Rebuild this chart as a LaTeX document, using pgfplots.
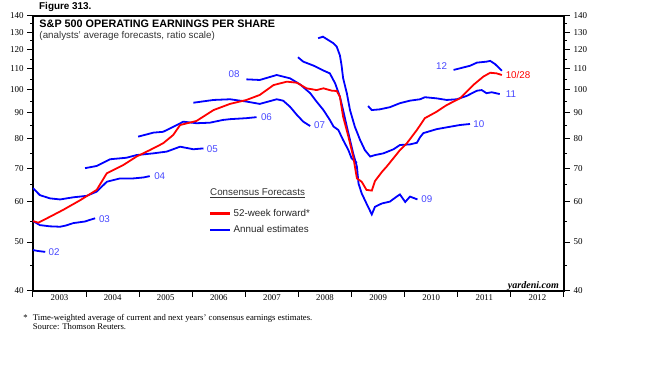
\documentclass[border=0pt]{standalone}
\usepackage{fontspec}
\setmainfont{Liberation Serif}
\setsansfont{Liberation Sans}
\usepackage{pgfplots}
\pgfplotsset{compat=1.18}
\definecolor{lblue}{RGB}{70,70,255}
\definecolor{pblue}{RGB}{0,0,255}
\definecolor{pred}{RGB}{255,0,0}
\begin{document}
\begin{tikzpicture}[
  lbl/.style={font=\sffamily\fontsize{9.8bp}{11bp}\selectfont, text=lblue, inner sep=0pt, anchor=west},
  bl/.style={pblue, line width=1.8bp},
]
\useasboundingbox (-33bp,-80bp) rectangle (627bp,291bp);
\begin{axis}[
  at={(0bp,0bp)}, anchor=south west, scale only axis,
  width=531bp, height=275bp,
  xmin=2003, xmax=2013, ymode=log, ymin=40, ymax=140,
  tick align=outside, major tick length=6bp, minor tick length=3bp,
  every tick/.style={black, line width=1bp},
  ytick={40,50,60,70,80,90,100,110,120,130,140},
  yticklabels={40,50,60,70,80,90,100,110,120,130,140},
  minor ytick={45,55,65,75,85,95,105,115,125,135},
  tick label style={font=\rmfamily\fontsize{9bp}{10bp}\selectfont},
  axis line style={line width=1.6bp},
  xtick={2003,2004,...,2013}, xticklabels={,,,,,,,,,,},
  xtick pos=bottom, ytick pos=left,
  extra x ticks={2003.5,2004.5,...,2012.5},
  extra x tick labels={2003,2004,2005,2006,2007,2008,2009,2010,2011,2012},
  extra x tick style={major tick length=0bp, tick label style={font=\rmfamily\fontsize{8.8bp}{10bp}\selectfont}},
  legend style={draw=none, fill=none, at={(0.3315,0.306)}, anchor=north west,
    inner sep=0pt, row sep=4bp, text=black!85,
    font=\sffamily\fontsize{9.8bp}{11bp}\selectfont, cells={anchor=west}},
  legend image code/.code={\draw[#1] (0bp,0bp) -- (20bp,0bp);},
]
\addlegendimage{pred, line width=2.4bp}
\addlegendentry{52-week forward*}
\addlegendimage{pblue, line width=2.4bp}
\addlegendentry{Annual estimates}
% 02
\addplot[bl, forget plot] coordinates {(2003.0,48.2) (2003.09,48.0) (2003.23,47.8)};
% 03
\addplot[bl, forget plot] coordinates {(2003.0,55.0) (2003.13,54.0) (2003.32,53.7) (2003.51,53.6) (2003.62,53.9) (2003.76,54.5) (2003.98,54.9) (2004.07,55.3) (2004.17,55.7)};
% 04
\addplot[bl, forget plot] coordinates {(2003.0,63.9) (2003.13,61.9) (2003.32,61.0) (2003.51,60.7) (2003.76,61.3) (2004.01,61.7) (2004.20,62.9) (2004.39,65.8) (2004.64,66.8) (2004.89,66.8) (2005.08,67.1) (2005.20,67.5)};
% 05
\addplot[bl, forget plot] coordinates {(2003.98,70.0) (2004.20,70.7) (2004.45,72.9) (2004.76,73.4) (2004.95,74.3) (2005.27,74.9) (2005.52,75.5) (2005.77,77.2) (2006.02,76.3) (2006.21,76.6)};
% 06
\addplot[bl, forget plot] coordinates {(2004.98,80.8) (2005.27,82.3) (2005.45,82.6) (2005.71,85.2) (2005.83,86.5) (2006.08,85.9) (2006.33,86.1) (2006.58,87.2) (2006.71,87.5) (2007.02,87.9) (2007.21,88.3)};
% 07
\addplot[bl, forget plot] coordinates {(2006.02,94.3) (2006.40,95.5) (2006.71,95.8) (2007.02,94.8) (2007.27,93.8) (2007.59,95.8) (2007.71,95.2) (2007.84,92.6) (2007.97,89.2) (2008.09,86.5) (2008.22,84.8)};
% 08
\addplot[bl, forget plot] coordinates {(2007.02,104.9) (2007.27,104.6) (2007.59,107.0) (2007.84,105.4) (2008.03,102.5) (2008.22,98.5) (2008.34,94.8) (2008.47,91.2) (2008.59,87.2) (2008.66,84.6) (2008.75,83.3) (2008.84,79.6) (2008.94,76.0) (2009.00,73.2) (2009.10,71.7)};
% 09
\addplot[bl, forget plot] coordinates {(2007.99,116.0) (2008.09,113.7) (2008.28,111.7) (2008.47,109.2) (2008.59,107.8) (2008.69,103.0) (2008.78,96.9) (2008.84,91.2) (2008.91,84.6) (2008.97,79.6) (2009.03,74.9) (2009.10,70.5) (2009.13,65.3) (2009.19,62.4) (2009.28,59.6) (2009.38,56.7) (2009.44,58.7) (2009.57,59.6) (2009.72,60.1) (2009.85,61.5) (2009.91,62.1) (2010.01,60.0) (2010.10,61.5) (2010.24,60.7)};
% 10
\addplot[bl, forget plot] coordinates {(2008.37,126.5) (2008.46,127.4) (2008.66,123.6) (2008.72,121.7) (2008.78,117.0) (2008.81,112.0) (2008.84,105.5) (2008.91,98.5) (2008.97,91.2) (2009.06,84.6) (2009.16,79.6) (2009.25,76.0) (2009.35,73.8) (2009.44,74.3) (2009.60,74.9) (2009.79,76.3) (2009.91,77.8) (2010.10,78.0) (2010.23,78.6) (2010.29,80.6) (2010.35,82.1) (2010.60,83.6) (2010.79,84.3) (2011.04,85.2) (2011.23,85.6)};
% 11
\addplot[bl, forget plot] coordinates {(2009.31,92.9) (2009.38,91.2) (2009.53,91.5) (2009.72,92.4) (2009.91,94.1) (2010.10,95.2) (2010.29,95.8) (2010.38,96.7) (2010.60,96.2) (2010.79,95.5) (2010.98,95.8) (2011.17,97.3) (2011.36,99.6) (2011.45,99.9) (2011.54,98.5) (2011.64,98.9) (2011.79,98.1)};
% 12
\addplot[bl, forget plot] coordinates {(2010.92,109.5) (2011.04,110.3) (2011.23,111.6) (2011.36,113.2) (2011.54,113.7) (2011.61,114.1) (2011.70,112.5) (2011.83,109.1)};
% 52-week forward
\addplot[pred, line width=1.8bp, forget plot] coordinates {(2003.0,55.0) (2003.10,54.6) (2003.32,56.1) (2003.57,57.9) (2003.89,60.5) (2004.20,63.4) (2004.39,68.4) (2004.70,71.0) (2004.95,73.8) (2005.20,76.0) (2005.45,78.4) (2005.64,81.4) (2005.77,85.2) (2006.08,86.8) (2006.40,91.2) (2006.71,93.8) (2007.02,95.5) (2007.27,97.7) (2007.53,102.2) (2007.78,103.8) (2007.97,103.3) (2008.15,100.7) (2008.34,99.9) (2008.47,100.7) (2008.63,99.6) (2008.72,99.5) (2008.78,96.9) (2008.84,88.5) (2008.94,80.8) (2009.03,73.8) (2009.10,66.8) (2009.19,65.8) (2009.28,63.4) (2009.38,63.2) (2009.44,66.0) (2009.57,68.8) (2009.66,70.5) (2009.79,73.3) (2009.91,76.0) (2010.04,78.4) (2010.23,83.3) (2010.38,87.9) (2010.60,90.5) (2010.79,93.3) (2011.04,96.2) (2011.29,102.2) (2011.48,106.2) (2011.61,108.1) (2011.73,107.8) (2011.83,107.0)};
\node[lbl] at (axis cs:2003.29,47.8) {02};
\node[lbl] at (axis cs:2004.24,55.5) {03};
\node[lbl] at (axis cs:2005.28,67.4) {04};
\node[lbl] at (axis cs:2006.27,76.4) {05};
\node[lbl] at (axis cs:2007.29,88.3) {06};
\node[lbl] at (axis cs:2008.29,85.2) {07};
\node[lbl] at (axis cs:2006.68,107.5) {08};
\node[lbl] at (axis cs:2010.31,60.8) {09};
\node[lbl] at (axis cs:2011.29,85.6) {10};
\node[lbl] at (axis cs:2011.90,98.0) {11};
\node[lbl] at (axis cs:2010.59,111.5) {12};
\node[lbl, text=pred] at (axis cs:2011.90,107.0) {10/28};
\end{axis}
\begin{axis}[
  at={(0bp,0bp)}, anchor=south west, scale only axis,
  width=531bp, height=275bp,
  xmin=2003, xmax=2013, ymode=log, ymin=40, ymax=140,
  axis x line=none, xtick=\empty, axis y line*=right,
  y axis line style={line width=1.6bp},
  tick align=outside, major tick length=6bp, minor tick length=3bp,
  every tick/.style={black, line width=1bp},
  ytick={40,50,60,70,80,90,100,110,120,130,140},
  yticklabels={40,50,60,70,80,90,100,110,120,130,140},
  minor ytick={45,55,65,75,85,95,105,115,125,135},
  tick label style={font=\rmfamily\fontsize{9bp}{10bp}\selectfont},
]
\addplot[draw=none, forget plot] coordinates {(2003.5,50) (2004,60)};
\end{axis}
\node[anchor=base west, inner sep=0pt, font=\sffamily\bfseries\fontsize{9.9bp}{11bp}\selectfont] at (6bp,281.5bp) {Figure 313.};
\node[anchor=base west, inner sep=0pt, font=\sffamily\bfseries\fontsize{10.8bp}{12bp}\selectfont] at (6.3bp,263.7bp) {S\&P 500 OPERATING EARNINGS PER SHARE};
\node[anchor=base west, inner sep=0pt, text=black!80, font=\sffamily\fontsize{9.8bp}{11bp}\selectfont] at (6.3bp,252.5bp) {(analysts' average forecasts, ratio scale)};
\node[anchor=base west, inner sep=0pt, text=black!80, font=\sffamily\fontsize{9.8bp}{11bp}\selectfont] at (177bp,95bp) {\underline{Consensus Forecasts}};
\node[anchor=base east, inner sep=0pt, font=\rmfamily\bfseries\itshape\fontsize{10bp}{12bp}\selectfont] at (526bp,3bp) {yardeni.com};
\node[anchor=base west, inner sep=0pt, font=\rmfamily\fontsize{8.7bp}{10bp}\selectfont] at (-9.7bp,-29.7bp) {*};
\node[anchor=base west, inner sep=0pt, font=\rmfamily\fontsize{8.7bp}{10bp}\selectfont] at (-0.3bp,-29.7bp) {Time-weighted average of current and next years' consensus earnings estimates.};
\node[anchor=base west, inner sep=0pt, font=\rmfamily\fontsize{8.7bp}{10bp}\selectfont] at (-0.3bp,-38bp) {Source: Thomson Reuters.};
\end{tikzpicture}
\end{document}
